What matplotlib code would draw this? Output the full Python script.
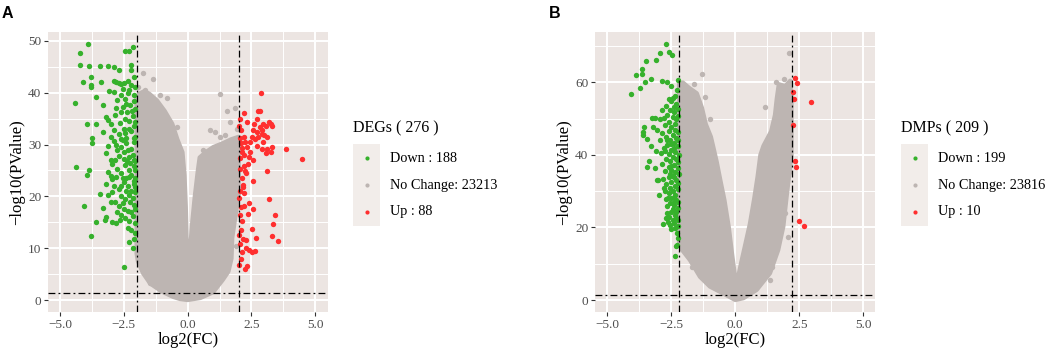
import matplotlib
matplotlib.use("Agg")
import matplotlib.pyplot as plt
from matplotlib.patches import Polygon, Rectangle
from matplotlib.lines import Line2D
import numpy as np

# ---------------- data ----------------
# Panel A : DEGs
down_a = [(-3.89, 49.4), (-4.2, 47.7), (-4.2, 45.3), (-3.87, 45.2), (-3.43, 45.1), (-3.1, 45.2),
          (-2.88, 44.9), (-2.68, 44.3), (-2.46, 48.0), (-2.29, 48.0), (-2.13, 48.8), (-2.2, 45.4),
          (-2.2, 44.4), (-4.1, 42.0), (-3.77, 43.0), (-3.8, 41.5), (-3.8, 41.0), (-3.4, 42.0),
          (-4.4, 38.1), (-3.6, 39.1), (-3.3, 37.6), (-3.08, 40.4), (-2.9, 42.2), (-2.8, 42.0),
          (-2.7, 41.8), (-2.6, 41.6), (-2.5, 41.9), (-2.55, 40.8), (-2.35, 42.3), (-2.2, 41.5),
          (-2.1, 39.5), (-2.1, 38.3), (-2.9, 40.1), (-2.6, 39.6), (-2.75, 38.5), (-2.4, 37.8),
          (-2.25, 37.6), (-3.95, 34.0), (-3.6, 34.0), (-3.75, 31.2), (-3.75, 30.2), (-3.2, 35.3),
          (-3.1, 34.8), (-3.0, 33.9), (-2.85, 35.6), (-2.8, 37.0), (-2.6, 36.2), (-2.45, 35.0),
          (-2.3, 34.5), (-2.15, 35.5), (-2.1, 33.5), (-3.3, 32.5), (-3.0, 31.4), (-2.9, 32.8),
          (-2.7, 32.0), (-2.5, 33.0), (-2.4, 31.2), (-2.2, 32.6), (-2.05, 31.5), (-3.1, 29.7),
          (-2.8, 30.0), (-2.6, 29.5), (-2.4, 30.3), (-2.2, 29.2), (-2.1, 30.5), (-3.2, 28.4),
          (-3.0, 27.0), (-2.7, 27.8), (-2.5, 28.6), (-2.3, 27.5), (-2.15, 28.0), (-2.05, 26.8),
          (-4.38, 25.7), (-3.95, 24.1), (-3.85, 25.1), (-3.1, 24.7), (-3.0, 24.0), (-2.95, 23.3),
          (-2.75, 25.3), (-2.6, 24.5), (-2.45, 26.0), (-2.3, 25.1), (-2.2, 24.2), (-2.1, 25.8),
          (-2.05, 23.5), (-3.2, 22.4), (-2.9, 22.0), (-2.7, 21.5), (-2.5, 22.7), (-2.35, 22.0),
          (-2.2, 21.1), (-2.1, 22.3), (-3.45, 20.5), (-4.05, 18.2), (-3.1, 20.3), (-2.85, 19.0),
          (-2.6, 20.0), (-2.45, 19.5), (-2.3, 20.2), (-2.15, 19.6), (-2.05, 20.8), (-3.3, 17.8),
          (-3.0, 18.9), (-2.7, 18.2), (-2.5, 17.5), (-2.2, 17.0), (-2.1, 18.4), (-3.6, 15.0),
          (-3.25, 15.5), (-3.2, 16.0), (-2.95, 15.0), (-2.8, 14.9), (-2.6, 16.5), (-2.45, 15.8),
          (-2.3, 15.2), (-2.15, 16.2), (-3.78, 12.3), (-2.2, 13.5), (-2.1, 11.8), (-2.28, 11.2),
          (-2.15, 10.0), (-2.5, 6.3), (-2.35, 39.9), (-2.65, 34.2), (-2.95, 26.2), (-2.4, 23.6),
          (-2.75, 29.0), (-2.55, 30.8), (-2.25, 26.5), (-2.62, 22.0),
          (-2.05, 41.0), (-2.12, 43.0), (-2.3, 40.6), (-2.45, 38.8), (-2.05, 36.8), (-2.18, 36.4),
          (-2.38, 36.2), (-2.55, 37.2), (-2.05, 34.3), (-2.3, 33.0), (-2.62, 31.0), (-2.12, 31.2),
          (-2.32, 29.0), (-2.5, 27.2), (-2.12, 27.0), (-2.38, 26.8), (-2.05, 25.0), (-2.28, 23.8),
          (-2.55, 23.6), (-2.12, 23.0), (-2.4, 21.0), (-2.05, 21.9), (-2.25, 19.0), (-2.55, 18.8),
          (-2.05, 17.6), (-2.35, 17.2), (-2.65, 15.5), (-2.05, 14.8), (-2.35, 13.9), (-2.05, 12.9),
          (-2.85, 27.0), (-2.9, 30.6), (-2.45, 32.2), (-2.8, 23.7), (-2.95, 20.8), (-2.75, 16.9)]
up_a = [(2.17, 22.2), (2.18, 21.8), (2.56, 23.0), (3.17, 19.5), (2.03, 19.6), (2.2, 18.2),
        (2.4, 18.8), (2.56, 17.6), (2.05, 16.4), (2.37, 16.6), (3.43, 16.4), (3.33, 14.6),
        (2.54, 13.7), (3.29, 12.4), (3.53, 11.3), (2.08, 13.6), (2.18, 11.8), (2.27, 11.5),
        (2.66, 12.0), (2.3, 10.1), (2.4, 9.7), (2.54, 9.2), (2.63, 9.5), (2.1, 7.9),
        (2.03, 6.8), (2.32, 6.5), (2.25, 6.0), (2.86, 39.9), (2.77, 36.4), (2.84, 36.4),
        (2.32, 34.4), (2.71, 35.0), (3.17, 34.4), (3.26, 34.0), (2.97, 34.0), (3.07, 33.5),
        (3.3, 33.5), (2.84, 33.4), (2.9, 32.8), (2.03, 33.6), (2.08, 32.8), (2.58, 32.8),
        (2.71, 32.4), (2.93, 32.1), (3.0, 31.8), (2.19, 31.5), (2.52, 31.5), (2.77, 31.5),
        (3.1, 31.5), (2.26, 30.5), (2.1, 30.2), (2.32, 29.5), (2.71, 29.7), (2.9, 29.2),
        (3.1, 29.2), (3.32, 29.5), (3.26, 28.6), (3.06, 28.3), (3.85, 29.2), (2.12, 28.6),
        (2.19, 28.0), (2.39, 27.6), (2.58, 27.0), (4.5, 27.2), (2.06, 27.4), (2.19, 25.8),
        (2.29, 24.5), (3.1, 24.8), (2.26, 24.8),
        (2.05, 31.2), (2.15, 29.3), (2.45, 30.4), (2.05, 25.2), (2.12, 23.6), (2.22, 20.6),
        (2.05, 21.0), (2.1, 18.0), (2.14, 15.2), (2.05, 10.8), (2.6, 33.9), (2.45, 28.6),
        (2.65, 31.0), (2.35, 26.2), (2.05, 35.0), (2.2, 36.0), (2.95, 30.5), (2.15, 9.2),
        (2.02, 12.5)]
# outline of the dense "No Change" cloud (both arms of the V)
nochange_a_outline = [(0.0, 0.0), (-0.3, 0.2), (-0.56, 0.6), (-1.0, 1.6), (-1.47, 3.2), (-1.75, 5.2),
                      (-1.95, 7.5), (-2.0, 9.0), (-2.0, 39.0), (-1.9, 39.8), (-1.7, 40.3),
                      (-1.5, 39.8), (-1.2, 38.5), (-0.9, 36.5), (-0.6, 34.0), (-0.4, 31.0),
                      (-0.2, 28.5), (-0.12, 24.0), (-0.07, 18.0), (-0.04, 12.0), (0.02, 5.5),
                      (0.1, 10.0), (0.18, 15.0), (0.28, 20.0), (0.4, 25.0), (0.47, 27.5),
                      (0.7, 28.5), (1.0, 29.5), (1.4, 30.3), (1.7, 31.0), (2.0, 31.5),
                      (2.0, 20.0), (1.9, 17.0), (1.75, 12.0), (1.72, 8.0), (1.6, 5.5),
                      (1.38, 3.9), (1.0, 1.5), (0.5, 0.4)]
nochange_a_extra = [(-1.73, 43.8), (-1.34, 42.6), (-1.67, 40.5), (-0.82, 38.9), (-0.43, 33.4),
                    (-0.56, 32.4), (1.27, 39.7), (0.88, 32.8), (1.54, 36.4), (1.86, 37.0),
                    (1.67, 34.4), (1.47, 31.8), (1.27, 31.5), (1.08, 32.4), (-1.47, 3.2),
                    (-1.14, 2.4), (-1.8, 6.4), (-1.95, 41.0), (-1.1, 39.5), (0.6, 29.0),
                    (1.95, 33.0), (1.9, 10.5)]

# Panel B : DMPs
down_b = [(-2.71, 70.6), (-2.59, 68.4), (-2.49, 67.5), (-2.94, 68.0), (-3.1, 66.3), (-3.49, 65.9),
          (-3.66, 63.7), (-3.66, 62.3), (-3.89, 62.0), (-3.53, 60.2), (-3.31, 60.9), (-3.72, 58.5),
          (-4.06, 56.7), (-2.88, 60.3), (-2.68, 60.2), (-2.53, 59.0), (-2.25, 60.6),
          (-3.27, 50.3), (-3.14, 50.1), (-3.57, 47.8), (-3.59, 46.4), (-3.62, 45.5), (-3.2, 47.8),
          (-3.07, 47.0), (-3.46, 44.3), (-2.94, 44.1), (-3.36, 38.2), (-3.46, 36.7), (-3.05, 33.1),
          (-2.97, 28.9), (-2.84, 20.9), (-3.14, 36.5), (-3.01, 33.0), (-2.81, 33.5), (-3.3, 42.5),
          (-3.1, 41.0), (-2.95, 49.8), (-2.85, 52.5),
          (-2.45, 55.8), (-2.6, 55.5), (-2.35, 56.2), (-2.5, 54.8), (-2.3, 54.0), (-2.7, 53.5),
          (-2.55, 52.5), (-2.4, 51.8), (-2.25, 52.8), (-2.65, 51.0), (-2.8, 50.2), (-2.45, 50.5),
          (-2.3, 49.8), (-2.6, 49.0), (-2.75, 48.2), (-2.5, 47.8), (-2.35, 47.0), (-2.25, 46.2),
          (-2.6, 46.5), (-2.85, 46.0), (-2.45, 45.5), (-2.7, 45.0), (-2.3, 44.8), (-2.55, 44.0),
          (-2.4, 43.2), (-2.25, 42.5), (-2.65, 42.8), (-2.8, 42.0), (-2.5, 41.5), (-2.35, 40.8),
          (-2.6, 40.2), (-2.9, 40.5), (-2.75, 41.2), (-2.2, 40.0), (-2.45, 39.5), (-2.3, 38.8),
          (-2.55, 38.2), (-2.7, 38.8), (-2.85, 37.5), (-2.4, 37.2), (-2.25, 36.5), (-2.6, 36.8),
          (-2.5, 35.8), (-2.35, 35.2), (-2.75, 35.5), (-2.2, 34.8), (-2.45, 34.2), (-2.6, 33.8),
          (-2.3, 33.2), (-2.5, 32.5), (-2.7, 32.0), (-2.35, 31.5), (-2.55, 31.0), (-2.25, 30.5),
          (-2.8, 30.8), (-2.45, 30.0), (-2.6, 29.5), (-2.35, 29.0), (-2.5, 28.2), (-2.7, 27.8),
          (-2.3, 27.5), (-2.55, 26.8), (-2.4, 26.2), (-2.25, 25.5), (-2.65, 25.8), (-2.45, 25.0),
          (-2.5, 24.2), (-2.35, 23.5), (-2.6, 23.0), (-2.3, 22.5), (-2.45, 22.0), (-2.7, 22.5),
          (-2.4, 21.2), (-2.25, 20.5), (-2.55, 20.8), (-2.35, 19.8), (-2.28, 18.5), (-2.27, 15.2),
          (-2.35, 12.1), (-2.3, 14.8),
          (-2.28, 57.8), (-2.4, 53.2), (-2.22, 50.8), (-2.35, 48.6), (-2.22, 44.0), (-2.38, 41.8),
          (-2.25, 38.0), (-2.38, 33.9), (-2.22, 32.2), (-2.4, 28.0), (-2.22, 27.0), (-2.3, 24.4),
          (-2.22, 22.2), (-2.5, 19.5), (-2.22, 17.0), (-2.65, 44.0), (-2.5, 43.0), (-2.55, 34.8),
          (-2.62, 28.0), (-2.45, 26.8), (-2.75, 30.0), (-2.52, 37.0), (-2.68, 24.0), (-2.62, 21.5)]
up_b = [(2.33, 61.1), (2.42, 59.9), (2.24, 57.4), (2.29, 55.4), (2.94, 54.7), (2.27, 48.2),
        (2.32, 38.3), (2.37, 36.7), (2.5, 21.9), (2.68, 20.4)]
nochange_b_outline = [(0.0, 0.0), (-0.47, 1.8), (-0.99, 3.7), (-1.38, 6.4), (-1.77, 11.0),
                      (-2.1, 14.0), (-2.2, 16.0), (-2.2, 59.5), (-2.05, 60.0), (-1.8, 58.5),
                      (-1.5, 57.0), (-1.3, 53.0), (-1.15, 48.5), (-0.95, 45.0), (-0.85, 42.0),
                      (-0.72, 38.0), (-0.58, 33.0), (-0.42, 27.5), (-0.25, 20.0), (-0.12, 12.5),
                      (0.04, 4.0), (0.22, 10.0), (0.38, 15.0), (0.57, 21.0), (0.74, 28.0),
                      (0.87, 34.0), (0.98, 40.0), (1.1, 42.5), (1.4, 46.5), (1.55, 51.0),
                      (1.62, 55.5), (1.7, 59.5), (1.95, 59.0), (2.15, 60.5), (2.2, 55.0),
                      (2.2, 40.0), (2.1, 34.0), (2.0, 28.0), (1.88, 20.3), (1.68, 13.8),
                      (1.36, 7.4), (0.84, 2.8), (0.32, 0.5)]
nochange_b_extra = [(-1.28, 62.3), (-1.18, 56.0), (2.11, 68.0), (1.61, 60.2), (1.9, 61.0),
                    (1.16, 53.3), (2.11, 35.4), (2.07, 17.5), (1.35, 5.5), (1.45, 9.0),
                    (-1.6, 59.5), (-1.0, 50.0), (-1.7, 9.0), (1.95, 24.0)]

x_ticks = [-5.0, -2.5, 0.0, 2.5, 5.0]
y_ticks_a = [0, 10, 20, 30, 40, 50]
y_ticks_b = [0, 20, 40, 60]
fc_cut_a = 2.0
fc_cut_b = 2.2
p_cut = 1.3

legend_a_title = "DEGs ( 276 )"
legend_a_labels = ["Down : 188", "No Change: 23213", "Up : 88"]
legend_b_title = "DMPs ( 209 )"
legend_b_labels = ["Down : 199", "No Change: 23816", "Up : 10"]

# ---------------- style ----------------
W, H = 1045, 355
PANEL_BG = '#ECE5E2'
KEY_BG = '#F2EDEA'
GREY_PT = '#BDB5B2'
GREEN = '#36B12C'
RED = '#FF2F2F'
SERIF = ['Liberation Serif', 'DejaVu Serif']
plt.rcParams['font.family'] = SERIF
plt.rcParams['axes.unicode_minus'] = True

fig = plt.figure(figsize=(W / 100, H / 100), dpi=100)


def px_box(l, t, r, b):
    return [l / W, 1 - b / H, (r - l) / W, (b - t) / H]


PT_S = 15


def draw_panel(ax, down, up, outline, extra, cut, yticks, ylim, xlim, minor_y):
    ax.set_facecolor(PANEL_BG)
    for s in ax.spines.values():
        s.set_visible(False)
    ax.set_xlim(*xlim)
    ax.set_ylim(*ylim)
    ax.set_xticks(x_ticks)
    ax.set_xticklabels([f"{v:.1f}".replace('-', '\u2212') for v in x_ticks])
    ax.set_yticks(yticks)
    ax.set_yticklabels([str(v) for v in yticks])
    ax.set_xticks([-3.75, -1.25, 1.25, 3.75], minor=True)
    ax.set_yticks(minor_y, minor=True)
    ax.grid(True, which='major', color='white', lw=1.4)
    ax.grid(True, which='minor', color='white', lw=0.7)
    ax.tick_params(which='minor', length=0)
    ax.tick_params(which='major', length=2.75, width=0.8, color='#333333', pad=2,
                   labelsize=9.5, labelcolor='#4D4D4D')
    ax.set_axisbelow(True)
    # grey cloud
    ax.add_patch(Polygon(outline, closed=True, facecolor=GREY_PT, edgecolor=GREY_PT,
                         lw=3.0, joinstyle='round', zorder=2))
    ex = np.array(extra)
    ax.scatter(ex[:, 0], ex[:, 1], s=PT_S, color=GREY_PT, lw=0, zorder=2)
    d = np.array(down)
    ax.scatter(d[:, 0], d[:, 1], s=PT_S, color=GREEN, lw=0, zorder=3)
    u = np.array(up)
    ax.scatter(u[:, 0], u[:, 1], s=PT_S, color=RED, lw=0, zorder=3)
    dd = (5.5, 2.5, 1.5, 2.5)
    for xv in (-cut, cut):
        ax.axvline(xv, color='black', lw=0.9, dashes=dd, zorder=4)
    ax.axhline(p_cut, color='black', lw=0.9, dashes=dd, zorder=4)
    ax.set_xlabel('log2(FC)', fontsize=12, labelpad=1)
    ax.set_ylabel('\u2212log10(PValue)', fontsize=12, labelpad=2)


axA = fig.add_axes(px_box(48, 32, 328, 312))
draw_panel(axA, down_a, up_a, nochange_a_outline, nochange_a_extra, fc_cut_a, y_ticks_a,
           (-2.3, 51.7), (-5.47, 5.5), [5, 15, 25, 35, 45])
axB = fig.add_axes(px_box(595, 32, 875, 312))
draw_panel(axB, down_b, up_b, nochange_b_outline, nochange_b_extra, fc_cut_b, y_ticks_b,
           (-3.3, 73.9), (-5.48, 5.46), [10, 30, 50, 70])


def draw_legend(x0, title, labels):
    fig.text(x0 / W, 1 - 128 / H, title, fontsize=11.5, va='center', ha='left')
    fig.patches.append(Rectangle((x0 / W, 1 - 226 / H), 27 / W, 82 / H,
                                 transform=fig.transFigure, facecolor=KEY_BG,
                                 edgecolor='none', zorder=0))
    for lab, col, yy in zip(labels, [GREEN, GREY_PT, RED], [158, 185, 212]):
        fig.lines.append(Line2D([(x0 + 14) / W], [1 - yy / H], marker='o', ms=3.0, color=col,
                                mew=0, transform=fig.transFigure))
        fig.text((x0 + 37) / W, 1 - yy / H, lab, fontsize=10.3, va='center', ha='left')


draw_legend(353, legend_a_title, legend_a_labels)
draw_legend(901, legend_b_title, legend_b_labels)

fig.text(2 / W, 1 - 18 / H, 'A', family=['Liberation Sans', 'DejaVu Sans'], fontweight='bold',
         fontsize=11.5, va='baseline', ha='left')
fig.text(549 / W, 1 - 18 / H, 'B', family=['Liberation Sans', 'DejaVu Sans'], fontweight='bold',
         fontsize=11.5, va='baseline', ha='left')

fig.savefig('out.png', dpi=100)
